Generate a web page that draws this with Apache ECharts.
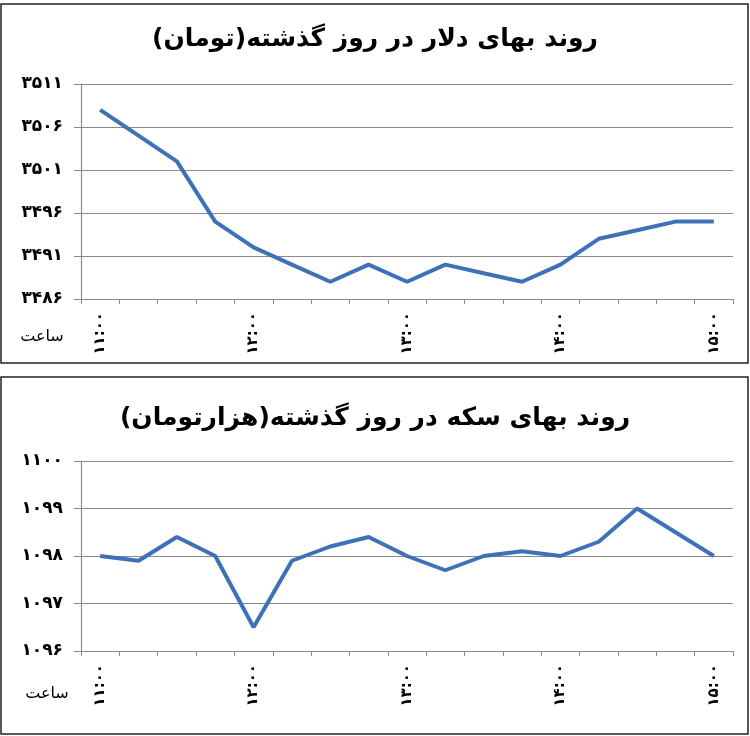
<!DOCTYPE html>
<html><head><meta charset="utf-8">
<script src="https://cdn.jsdelivr.net/npm/echarts@6/dist/echarts.min.js"></script>
<style>html,body{margin:0;padding:0;background:#fff}#c{width:750px;height:736px}</style>
</head><body><div id="c"></div>
<script>
const times = ['11:00','11:15','11:30','11:45','12:00','12:15','12:30','12:45','13:00','13:15','13:30','13:45','14:00','14:15','14:30','14:45','15:00'];
const dollarValues = [3508,3505,3502,3495,3492,3490,3488,3490,3488,3490,3489,3488,3490,3493,3494,3495,3495];
const coinValues = [1098.0,1097.9,1098.4,1098.0,1096.5,1097.9,1098.2,1098.4,1098.0,1097.7,1098.0,1098.1,1098.0,1098.3,1099.0,1098.5,1098.0];
const dollarTicks = [3486,3491,3496,3501,3506,3511];
const coinTicks = [1096,1097,1098,1099,1100];
const dollarTitle = 'روند بهای دلار در روز گذشته(تومان)';
const coinTitle = 'روند بهای سکه در روز گذشته(هزارتومان)';
const hourLabel = 'ساعت';

const FONT = 'DejaVu Sans';
function fa(s){return String(s).replace(/\d/g,d=>'۰۱۲۳۴۵۶۷۸۹'[d]);}

function xAxis(gi){
  return {
    type:'category', gridIndex:gi, data:times, boundaryGap:true,
    axisLine:{show:true,lineStyle:{color:'#8a8a8a',width:1.2}},
    axisTick:{show:true,interval:0,length:5,lineStyle:{color:'#8a8a8a'}},
    axisLabel:{interval:3,rotate:90,margin:13,fontSize:15,fontWeight:'bold',color:'#000',fontFamily:FONT,formatter:v=>fa(v)},
    splitLine:{show:false}
  };
}
function yAxis(gi,min,max,ticks){
  return {
    type:'value', gridIndex:gi, min:min, max:max,
    axisLine:{show:true,lineStyle:{color:'#8a8a8a',width:1.2}},
    axisTick:{show:true,length:7,lineStyle:{color:'#8a8a8a'},customValues:ticks},
    axisLabel:{margin:18,fontSize:17,fontWeight:'bold',color:'#000',fontFamily:FONT,customValues:ticks,formatter:v=>fa(v)},
    splitLine:{show:true,lineStyle:{color:'#8a8a8a',width:1.2}}
  };
}
const chart = echarts.init(document.getElementById('c'),null,{renderer:'canvas'});
chart.setOption({
  backgroundColor:'#fff',
  animation:false,
  title:[
    {text:dollarTitle,left:'center',top:22,textStyle:{fontFamily:FONT,fontSize:25,fontWeight:'bold',color:'#000'}},
    {text:coinTitle,left:'center',top:401,textStyle:{fontFamily:FONT,fontSize:25,fontWeight:'bold',color:'#000'}}
  ],
  grid:[
    {left:81,top:84,width:652,height:215},
    {left:81,top:461,width:652,height:190}
  ],
  xAxis:[xAxis(0),xAxis(1)],
  yAxis:[yAxis(0,3486,3511,dollarTicks),yAxis(1,1096,1100,coinTicks)],
  series:[
    {type:'line',xAxisIndex:0,yAxisIndex:0,data:dollarValues,showSymbol:false,lineStyle:{width:4,color:'#3D72B8'},silent:true},
    {type:'line',xAxisIndex:1,yAxisIndex:1,data:coinValues,showSymbol:false,lineStyle:{width:4,color:'#3D72B8'},silent:true}
  ],
  graphic:[
    {type:'rect',shape:{x:1,y:4,width:747,height:359},style:{fill:null,stroke:'#222',lineWidth:1.5},silent:true},
    {type:'rect',shape:{x:1,y:377,width:747,height:357},style:{fill:null,stroke:'#222',lineWidth:1.5},silent:true},
    {type:'text',x:42,y:337,style:{text:hourLabel,font:'16px "DejaVu Sans"',fill:'#000',align:'center',verticalAlign:'middle'}},
    {type:'text',x:47,y:694,style:{text:hourLabel,font:'16px "DejaVu Sans"',fill:'#000',align:'center',verticalAlign:'middle'}}
  ]
});
</script></body></html>
